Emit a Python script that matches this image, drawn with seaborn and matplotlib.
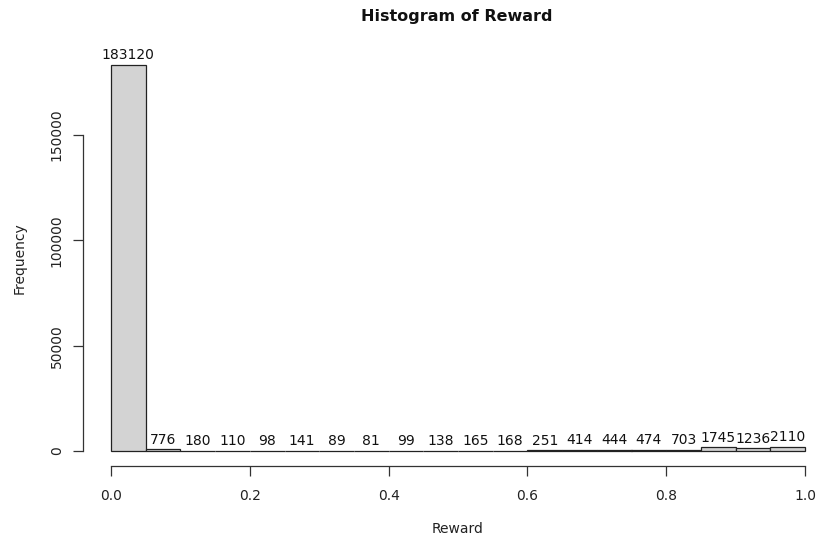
import numpy as np
import matplotlib
matplotlib.use("Agg")
import matplotlib.pyplot as plt
import seaborn as sns

# ---- data ----
bin_edges = [0.00, 0.05, 0.10, 0.15, 0.20, 0.25, 0.30, 0.35, 0.40, 0.45, 0.50,
             0.55, 0.60, 0.65, 0.70, 0.75, 0.80, 0.85, 0.90, 0.95, 1.00]
counts = [183120, 776, 180, 110, 98, 141, 89, 81, 99, 138,
          165, 168, 251, 414, 444, 474, 703, 1745, 1236, 2110]
x_ticks = [0.0, 0.2, 0.4, 0.6, 0.8, 1.0]
x_tick_labels = ["0.0", "0.2", "0.4", "0.6", "0.8", "1.0"]
y_ticks = [0, 50000, 100000, 150000]
y_tick_labels = ["0", "50000", "100000", "150000"]
title = "Histogram of Reward"
xlabel = "Reward"
ylabel = "Frequency"

bin_centers = [(a + b) / 2 for a, b in zip(bin_edges[:-1], bin_edges[1:])]

sns.set_theme(style="ticks")
plt.rcParams['font.family'] = ['DejaVu Sans']

W, H = 817, 542
fig = plt.figure(figsize=(W / 100, H / 100), dpi=100)

# layout (pixel geometry of the reference)
px_x0, px_x1 = 111, 805
px_y0, px_y150 = 451, 135
xlim = (-0.04, 1.04)
ymax = max(counts)
ylim = (-0.04 * ymax, 1.04 * ymax)
sx = (px_x1 - px_x0)
sy = (px_y0 - px_y150) / 150000
left = px_x0 + xlim[0] * sx
right = px_x0 + xlim[1] * sx
bottom = px_y0 - ylim[0] * sy
top = px_y0 - ylim[1] * sy
ax = fig.add_axes([left / W, 1 - bottom / H, (right - left) / W, (bottom - top) / H])

sns.histplot(x=bin_centers, weights=counts, bins=bin_edges, ax=ax,
             color="#D3D3D3", edgecolor="#222222", linewidth=0.9, alpha=1.0)

ax.bar_label(ax.containers[0], labels=[str(c) for c in counts],
             padding=2, fontsize=10, color="#111111")

ax.set_xlim(*xlim)
ax.set_ylim(*ylim)
sns.despine(ax=ax)
axis_col = "#333333"
for s in ("bottom", "left"):
    ax.spines[s].set_color(axis_col)
    ax.spines[s].set_linewidth(0.9)
ax.spines["bottom"].set_bounds(0, 1)
ax.spines["left"].set_bounds(0, 150000)

ax.set_xticks(x_ticks)
ax.set_xticklabels(x_tick_labels)
ax.set_yticks(y_ticks)
ax.set_yticklabels(y_tick_labels, rotation=90, va="center")
ax.tick_params(axis="both", direction="out", length=7, width=0.9,
               color=axis_col, labelcolor="#222222", labelsize=10)
ax.tick_params(axis="x", pad=9)
ax.tick_params(axis="y", pad=7)

ax.set_xlabel(xlabel, fontsize=10, color="#222222", labelpad=14)
ax.set_ylabel(ylabel, fontsize=10, color="#222222", labelpad=17)
ax.grid(False)

fig.text(457 / W, 1 - 16 / H, title, ha="center", va="center",
         fontsize=11.5, fontweight="bold", color="#111111")

fig.savefig("out.png", dpi=100, facecolor="white")
